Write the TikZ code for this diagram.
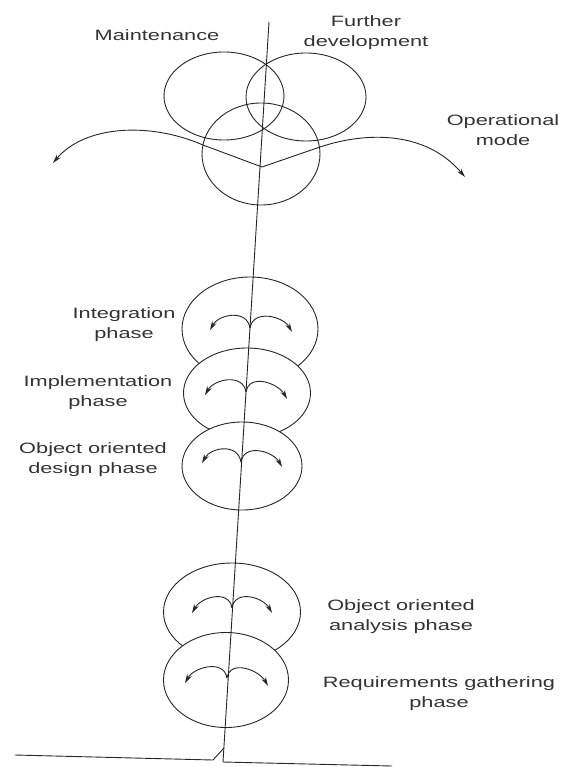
\documentclass[tikz,border=0pt]{standalone}
\usepackage{fontspec}
\setmainfont{Liberation Sans}[FakeStretch=1.45]
\usetikzlibrary{shapes.geometric, arrows.meta}

\begin{document}
\begin{tikzpicture}[
  x=1pt, y=-1pt,
  circ/.style={draw=black!85, ellipse, inner sep=0pt, line width=0.9pt},
  front/.style={circ, fill=white},
  lbl/.style={align=center, text=black!80, inner sep=0pt,
              font=\fontsize{15}{20}\selectfont},
  line/.style={draw=black!85, line width=0.9pt},
  arr/.style={line, -{Stealth[length=9pt, width=5pt]}}
]
\useasboundingbox (0,0) rectangle (562,767);

% top: the three overlapping circles
\node[circ, minimum width=120pt, minimum height=88pt] (maint)   at (224,96)  {};
\node[circ, minimum width=120pt, minimum height=88pt] (further) at (306,97)  {};
\node[circ, minimum width=118pt, minimum height=102pt] (oper)   at (261,154) {};

\node[lbl] (maintlbl)   at (157,35)  {Maintenance};
\node[lbl] (furtherlbl) at (366,33)  {Further\\development};
\node[lbl] (operlbl)    at (503,130) {Operational\\mode};

\coordinate (vleft)  at (203,145);
\coordinate (vbase)  at (262,167);
\coordinate (vright) at (320,147);
\coordinate (tipleft)  at (53,163);
\coordinate (tipright) at (465,177);
\draw[line] (vleft) -- (vbase) -- (vright);
\draw[arr] (vleft) .. controls (150,122) and (85,125) .. (tipleft);
\draw[arr] (vright) .. controls (365,132) and (425,130) .. (tipright);

% phases, drawn from the top down so each lower circle lies in front
\node[front, minimum width=136pt, minimum height=104pt] (integ) at (250,329) {};
\node[front, minimum width=127pt, minimum height=90pt]  (impl)  at (247,393) {};
\node[front, minimum width=120pt, minimum height=88pt]  (ood)   at (242,466) {};
\node[front, minimum width=137pt, minimum height=98pt]  (ooa)   at (232,612) {};
\node[front, minimum width=125pt, minimum height=95pt]  (req)   at (226,680) {};

\foreach \n/\ox/\oy/\lx/\ly/\rx/\ry in {integ/250/328/210/330/292/332,
    impl/246/392/205/395/287/399, ood/241/462/202/463/282/467,
    ooa/232/608/192/613/272/613, req/227/678/185/683/268/686} {
  \coordinate (\n-o) at (\ox,\oy);
  \coordinate (\n-l) at (\lx,\ly);
  \coordinate (\n-r) at (\rx,\ry);
  \draw[arr] (\n-o) .. controls +(-3,-19) and +(9,-16) .. (\n-l);
  \draw[arr] (\n-o) .. controls +(3,-19) and +(-9,-16) .. (\n-r);
}

\node[lbl] (integlbl) at (124,325) {Integration\\phase};
\node[lbl] (impllbl)  at (98,393)  {Implementation\\phase};
\node[lbl] (oodlbl)   at (93,460)  {Object oriented\\design phase};
\node[lbl] (ooalbl)   at (401,617) {Object oriented\\analysis phase};
\node[lbl] (reqlbl)   at (439,694) {Requirements gathering\\phase};

% axis and ground
\coordinate (top)  at (269,22);
\coordinate (foot) at (223,762);
\coordinate (gleft)  at (15,755);
\coordinate (gkink)  at (213,760);
\coordinate (gjoin)  at (223.9,748);
\coordinate (gright) at (392,766);
\draw[line] (top) -- (foot);
\draw[line] (gleft) -- (gkink) -- (gjoin);
\draw[line] (foot) -- (gright);
\end{tikzpicture}
\end{document}
